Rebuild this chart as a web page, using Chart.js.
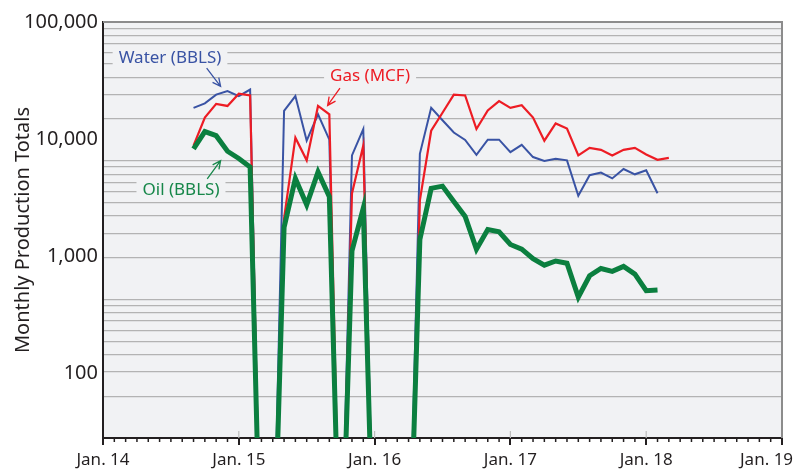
<!DOCTYPE html>
<html>
<head>
<meta charset="utf-8">
<script src="https://cdn.jsdelivr.net/npm/chart.js@4.4.0/dist/chart.umd.min.js"></script>
<style>
  html, body { margin: 0; padding: 0; background: #fff; }
</style>
</head>
<body>
<canvas id="prodChart" width="798" height="473"></canvas>
<script>
// months counted from Jan. 2014 (0 = Jan. 14)
const months = [8, 9, 10, 11, 12, 13, 14, 15, 16, 17, 18, 19, 20, 21, 22, 23, 24, 25, 26, 27,
  28, 29, 30, 31, 32, 33, 34, 35, 36, 37, 38, 39, 40, 41, 42, 43, 44, 45, 46, 47, 48, 49, 50];

// shut-in months are given as 1 so the line drops below the axis
const water = [18500, 20200, 24000, 25700, 23300, 26500, 1, 1, 17400, 23300, 9700, 16300, 9900, 1, 7260, 12200, 1, 1, 1, 1,
  7500, 18500, 14500, 11400, 9850, 7360, 9900, 9900, 7750, 8930, 7030, 6500, 6810, 6590, 3290, 4920, 5190, 4620, 5560, 5010, 5420, 3450, null];
const gas = [8800, 15300, 20000, 19200, 24400, 23600, 1, 1, 2100, 10300, 6590, 19200, 16300, 1, 3440, 8810, 1, 1, 1, 1,
  3000, 11800, 16800, 24000, 23600, 12200, 17600, 21100, 18500, 19500, 15300, 9700, 13600, 12300, 7260, 8430, 8100, 7260, 8100, 8430, 7400, 6670, 6930];
const oil = [8270, 11600, 10700, 7880, 6840, 5780, 1, 1, 1760, 4610, 2750, 5250, 3230, 1, 1110, 2580, 1, 1, 1, 1,
  1390, 3800, 3970, 2930, 2190, 1150, 1690, 1620, 1260, 1150, 955, 839, 912, 873, 448, 682, 787, 743, 819, 705, 509, 516, null];

const xTickMonths = [0, 12, 24, 36, 48, 60];
const xTickLabels = ['Jan. 14', 'Jan. 15', 'Jan. 16', 'Jan. 17', 'Jan. 18', 'Jan. 19'];
const yLabelValues = [100, 1000, 10000, 100000];
// horizontal grid lines as they sit in the picture (their spacing does not follow the labels)
const gridValues = [100000, 88300, 76800, 65560, 54630, 44020, 33800, 24040, 14870,
  6546, 5778, 5027, 4292, 3576, 2881, 2213, 1573, 973.6,
  428.5, 378.3, 329.1, 280.9, 234.1, 188.6, 144.9, 103, 63.7];

const notes = [
  {text: 'Water (BBLS)', color: '#3953a4', at: [5.92, 49200], from: [9.16, 40400], to: [10.39, 28200]},
  {text: 'Gas (MCF)', color: '#ed1c24', at: [23.6, 34300], from: [20.94, 27300], to: [19.85, 19400]},
  {text: 'Oil (BBLS)', color: '#17874a', at: [6.89, 3640], from: [9.21, 4580], to: [10.39, 6560]}
];

const plotBg = '#f1f2f4';
const ink = '#231f20';
const FONT = "'Noto Sans', sans-serif";

function toPoints(values) {
  return months.map((m, i) => ({x: m, y: values[i]}));
}

const plotDecor = {
  id: 'plotDecor',
  beforeDraw(chart) {
    const a = chart.chartArea;
    const ctx = chart.ctx;
    ctx.save();
    ctx.fillStyle = plotBg;
    ctx.fillRect(a.left, a.top, a.right - a.left, a.bottom - a.top);
    ctx.restore();
  },
  beforeDatasetsDraw(chart) {
    const a = chart.chartArea;
    const ctx = chart.ctx;
    const xs = chart.scales.x, ys = chart.scales.y;
    ctx.save();
    // top and right frame
    ctx.strokeStyle = '#8c8c8c';
    ctx.lineWidth = 2;
    ctx.beginPath();
    ctx.moveTo(a.left, a.top);
    ctx.lineTo(a.right, a.top);
    ctx.lineTo(a.right, a.bottom);
    ctx.stroke();
    // short stubs at each year inside the plot
    ctx.strokeStyle = '#bdbdbd';
    ctx.lineWidth = 1.2;
    xTickMonths.slice(1, -1).forEach(m => {
      const x = xs.getPixelForValue(m);
      ctx.beginPath();
      ctx.moveTo(x, a.bottom - 7);
      ctx.lineTo(x, a.bottom);
      ctx.stroke();
    });
    // monthly minor ticks
    ctx.strokeStyle = ink;
    ctx.lineWidth = 1.5;
    for (let m = 1; m < 60; m++) {
      if (m % 12 === 0) continue;
      const x = xs.getPixelForValue(m);
      ctx.beginPath();
      ctx.moveTo(x, a.bottom);
      ctx.lineTo(x, a.bottom + 4);
      ctx.stroke();
    }
    // series labels with arrows
    ctx.font = '17px ' + FONT;
    ctx.textAlign = 'center';
    ctx.textBaseline = 'middle';
    notes.forEach(n => {
      const tx = xs.getPixelForValue(n.at[0]), ty = ys.getPixelForValue(n.at[1]);
      const w = ctx.measureText(n.text).width;
      ctx.fillStyle = plotBg;
      ctx.fillRect(tx - w / 2 - 6, ty - 10, w + 12, 20);
      ctx.fillStyle = n.color;
      ctx.fillText(n.text, tx, ty);
      const x1 = xs.getPixelForValue(n.from[0]), y1 = ys.getPixelForValue(n.from[1]);
      const x2 = xs.getPixelForValue(n.to[0]), y2 = ys.getPixelForValue(n.to[1]);
      const ang = Math.atan2(y2 - y1, x2 - x1);
      ctx.strokeStyle = n.color;
      ctx.lineWidth = 1.3;
      ctx.beginPath();
      ctx.moveTo(x1, y1);
      ctx.lineTo(x2, y2);
      ctx.moveTo(x2 - 9 * Math.cos(ang - 0.45), y2 - 9 * Math.sin(ang - 0.45));
      ctx.lineTo(x2, y2);
      ctx.lineTo(x2 - 9 * Math.cos(ang + 0.45), y2 - 9 * Math.sin(ang + 0.45));
      ctx.stroke();
    });
    ctx.restore();
  }
};

const chart = new Chart(document.getElementById('prodChart'), {
  type: 'line',
  data: {
    datasets: [
      {label: 'Water (BBLS)', data: toPoints(water), borderColor: '#3953a4', borderWidth: 2, order: 2},
      {label: 'Gas (MCF)', data: toPoints(gas), borderColor: '#ed1c24', borderWidth: 2.2, order: 1},
      {label: 'Oil (BBLS)', data: toPoints(oil), borderColor: '#0b7f3f', borderWidth: 5, order: 0}
    ]
  },
  options: {
    responsive: false,
    animation: false,
    devicePixelRatio: 1,
    layout: {padding: {left: 0, right: 16, top: 22, bottom: 0}},
    elements: {
      point: {radius: 0},
      line: {tension: 0, borderJoinStyle: 'miter', borderCapStyle: 'butt'}
    },
    plugins: {legend: {display: false}, tooltip: {enabled: false}},
    scales: {
      x: {
        type: 'linear',
        min: 0,
        max: 60,
        afterBuildTicks(scale) {
          scale.ticks = xTickMonths.map(v => ({value: v}));
        },
        afterFit(scale) {
          scale.height = 35;
          scale.paddingLeft = 0;
          scale.paddingRight = 0;
        },
        ticks: {
          autoSkip: false,
          maxRotation: 0,
          padding: 5,
          color: ink,
          font: {family: FONT, size: 17},
          callback: v => {
            const i = xTickMonths.indexOf(v);
            if (i < 0) return '';
            return i === xTickLabels.length - 1 ? xTickLabels[i] + '       ' : xTickLabels[i];
          }
        },
        grid: {
          drawOnChartArea: false,
          drawTicks: true,
          tickLength: 7,
          lineWidth: 2,
          color: ink
        },
        border: {color: ink, width: 2}
      },
      y: {
        type: 'logarithmic',
        min: 28.1,
        max: 100000,
        afterBuildTicks(scale) {
          const vals = Array.from(new Set(gridValues.concat(yLabelValues))).sort((p, q) => p - q);
          scale.ticks = vals.map(v => ({value: v}));
        },
        afterFit(scale) {
          scale.width = 103;
          scale.paddingTop = 0;
          scale.paddingBottom = 0;
        },
        ticks: {
          autoSkip: false,
          padding: 5,
          color: ink,
          font: {family: FONT, size: 20},
          callback: v => yLabelValues.includes(v) ? v.toLocaleString('en-US') : ''
        },
        grid: {
          drawTicks: false,
          lineWidth: 1.2,
          color: c => (c.tick && gridValues.includes(c.tick.value)) ? '#b3b3b3' : 'rgba(0,0,0,0)'
        },
        border: {color: ink, width: 2},
        title: {
          display: true,
          text: 'Monthly Production Totals',
          color: ink,
          font: {family: FONT, size: 20},
          padding: {top: 11, bottom: 0}
        }
      }
    }
  },
  plugins: [plotDecor]
});
</script>
</body>
</html>
